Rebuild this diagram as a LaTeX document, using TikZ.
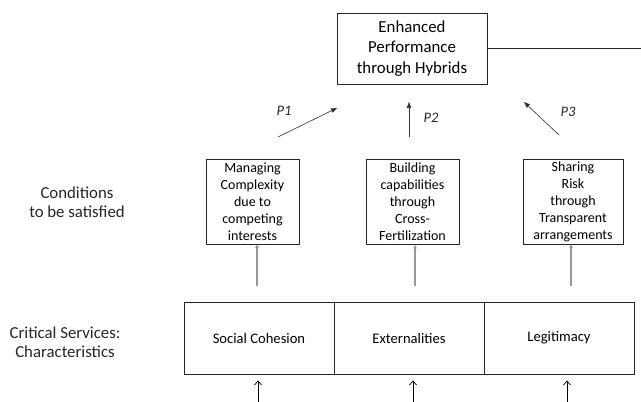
\documentclass[tikz,border=0pt]{standalone}
\usepackage{fontspec}
\setmainfont{Carlito}
\usetikzlibrary{arrows.meta}
\begin{document}
\begin{tikzpicture}[x=1pt,y=1pt,
  topbox/.style={draw=black!85, line width=0.9pt, inner sep=0pt, align=center,
    minimum width=150, minimum height=71, font=\fontsize{16.8}{20.5}\selectfont},
  condbox/.style={draw=black!85, line width=0.9pt, inner sep=0pt, align=center,
    minimum height=85, font=\fontsize{14}{17}\selectfont},
  charbox/.style={draw=black!85, line width=0.9pt, inner sep=0pt, align=center,
    minimum width=150, minimum height=72, font=\fontsize{14.6}{17}\selectfont},
  sidelabel/.style={align=center, font=\fontsize{16.8}{19.5}\selectfont, text=black!85},
  plabel/.style={font=\fontsize{14.5}{16}\selectfont\itshape, text=black!85},
  parrow/.style={draw=black!80, line width=0.6pt, -{Triangle[length=6pt,width=4.5pt]}},
  grayarrow/.style={draw=black!40, line width=1.1pt, -{Triangle[length=3.5pt,width=3.5pt]}, color=black!40},
  basearrow/.style={draw=black, line width=0.7pt, -{Straight Barb[length=4pt,width=7pt]}}
]
\useasboundingbox (0,0) rectangle (641,-402);

% top
\node[topbox] (top) at (412,-48.5) {Enhanced\\Performance\\through Hybrids};
\coordinate (rend) at (641,-48.5);
\draw[black!85, line width=0.9pt] (top.east) -- (rend);

% conditions
\node[condbox, minimum width=93] (m1) at (252.5,-201.5) {Managing\\Complexity\\due to\\competing\\interests};
\node[condbox, minimum width=93] (m2) at (412.5,-202) {Building\\capabilities\\through\\Cross-\\Fertilization};
\node[condbox, minimum width=100] (m3) at (573,-201.5) {Sharing\\Risk\\through\\Transparent\\arrangements};

% P arrows
\coordinate (p1s) at (278,-137); \coordinate (p1e) at (337,-108);
\coordinate (p2s) at (409,-137); \coordinate (p2e) at (409,-102);
\coordinate (p3s) at (559,-135); \coordinate (p3e) at (524,-102);
\draw[parrow] (p1s) -- (p1e);
\draw[parrow] (p2s) -- (p2e);
\draw[parrow] (p3s) -- (p3e);
\node[plabel] (pl1) at (284,-111) {P1};
\node[plabel] (pl2) at (431,-118) {P2};
\node[plabel] (pl3) at (568,-112) {P3};

% characteristics
\node[charbox] (b1) at (259,-338) {Social Cohesion};
\node[charbox] (b2) at (409,-338) {Externalities};
\node[charbox] (b3) at (559,-338) {Legitimacy};

% gray arrows
\coordinate (g1) at (257,-286);
\coordinate (g2) at (415,-286);
\coordinate (g3) at (571,-286);
\draw[grayarrow] (g1) -- (g1 |- m1.south);
\draw[grayarrow] (g2) -- (g2 |- m2.south);
\draw[grayarrow] (g3) -- (g3 |- m3.south);

% base arrows
\coordinate (a1) at (258,-402);
\coordinate (a2) at (413,-402);
\coordinate (a3) at (567,-402);
\draw[basearrow, shorten >=6pt] (a1) -- (a1 |- b1.south);
\draw[basearrow, shorten >=6pt] (a2) -- (a2 |- b2.south);
\draw[basearrow, shorten >=6pt] (a3) -- (a3 |- b3.south);

% side labels
\node[sidelabel] (cond) at (77,-202) {Conditions\\to be satisfied};
\node[sidelabel] (crit) at (65,-342) {Critical Services:\\Characteristics};
\end{tikzpicture}
\end{document}
